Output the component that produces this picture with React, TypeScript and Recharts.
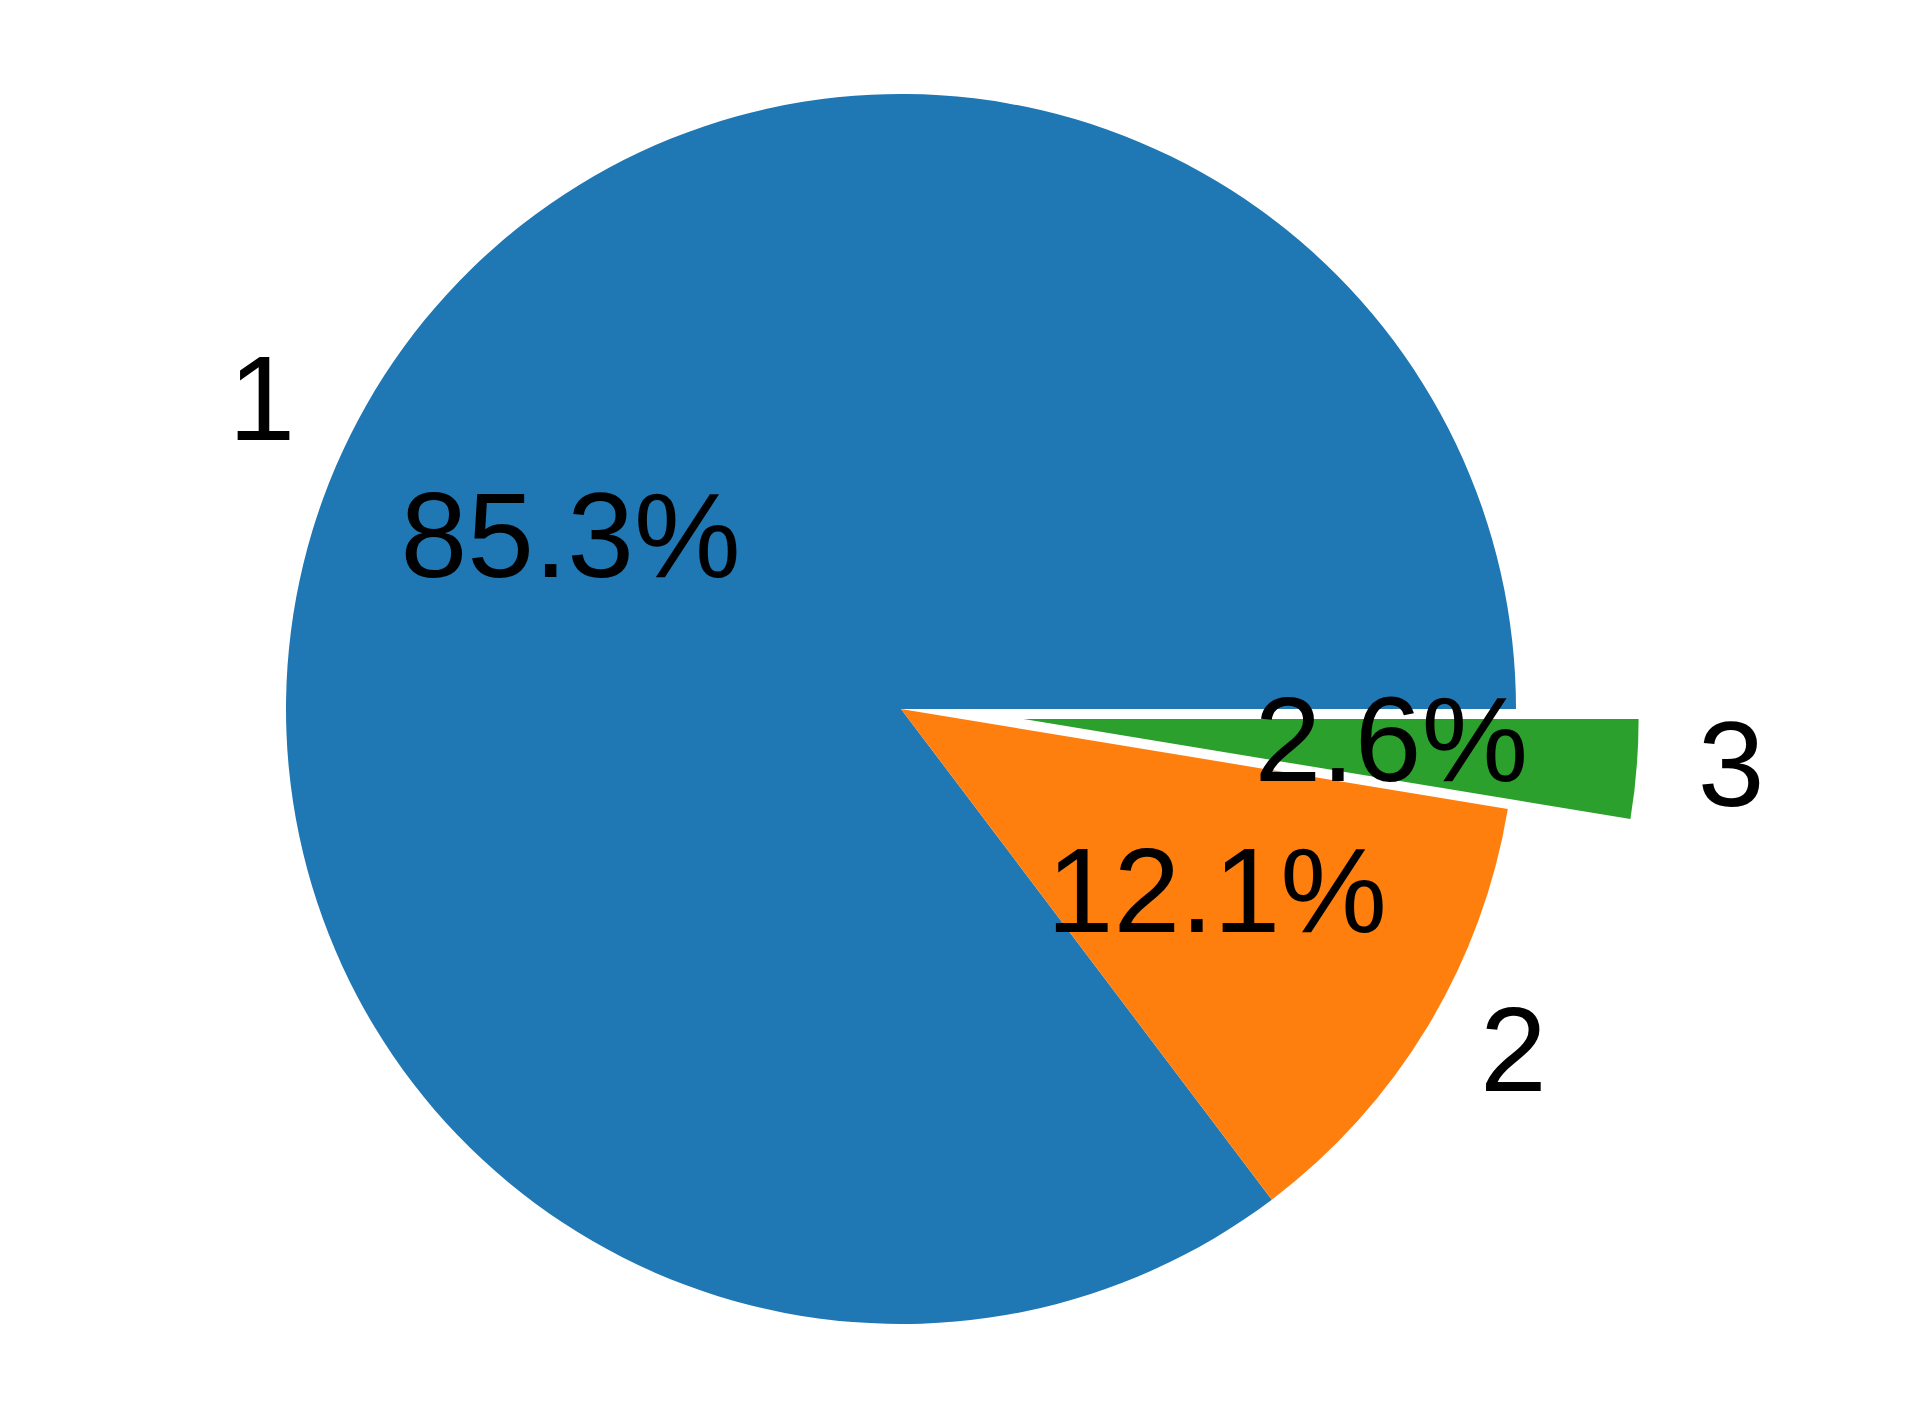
import { PieChart, Pie, Cell } from "recharts";

// slice values (percent of total) and their labels
const NAMES = ["1", "2", "3"];
const VALUES = [85.3, 12.1, 2.6];
const COLORS = ["#1f77b4", "#ff7f0e", "#2ca02c"];
const EXPLODE = [0, 0, 0.2];

const WIDTH = 1919;
const HEIGHT = 1418;
const CX = 901;
const CY = 709;
const R = 615;
const FONT = "'Liberation Sans', Arial, Helvetica, sans-serif";

const data = NAMES.map((name, i) => ({ name, value: VALUES[i] }));
const total = VALUES.reduce((a, b) => a + b, 0);

// mid angle (degrees, counter-clockwise from 3 o'clock) of each slice
const midAngles = VALUES.map((v, i) => {
  const before = VALUES.slice(0, i).reduce((a, b) => a + b, 0);
  return ((before + v / 2) / total) * 360;
});

function makeLabel(only: number) {
  return (props: any) => {
    const { cx, cy, midAngle, outerRadius, percent, index, name } = props;
    if (index !== only) return null;
    const rad = (midAngle * Math.PI) / 180;
    const cos = Math.cos(rad);
    const sin = Math.sin(rad);
    const nx = cx + outerRadius * 1.1 * cos;
    const ny = cy - outerRadius * 1.1 * sin;
    const px = cx + outerRadius * 0.6 * cos;
    const py = cy - outerRadius * 0.6 * sin;
    return (
      <g>
        <text x={nx} y={ny} dy={-10} textAnchor={cos >= 0 ? "start" : "end"} dominantBaseline="central"
          fontFamily={FONT} fontSize={120} fill="#000">
          {name}
        </text>
        <text x={px} y={py} dy={-10} textAnchor="middle" dominantBaseline="central"
          fontFamily={FONT} fontSize={120} fill="#000">
          {(percent * 100).toFixed(1)}%
        </text>
      </g>
    );
  };
}

export default function App() {
  return (
    <div style={{ position: "absolute", left: 0, top: 0, background: "#fff" }}>
      <PieChart width={WIDTH} height={HEIGHT} margin={{ top: 0, right: 0, bottom: 0, left: 0 }}>
        {data.map((_, idx) => {
          const off = EXPLODE[idx] * R;
          const rad = (midAngles[idx] * Math.PI) / 180;
          return (
            <Pie
              key={idx}
              data={data}
              dataKey="value"
              nameKey="name"
              cx={CX + off * Math.cos(rad)}
              cy={CY - off * Math.sin(rad)}
              outerRadius={R}
              startAngle={0}
              endAngle={360}
              stroke="none"
              labelLine={false}
              label={makeLabel(idx)}
              isAnimationActive={false}
            >
              {data.map((_, i) => (
                <Cell key={i} fill={i === idx ? COLORS[i] : "none"} />
              ))}
            </Pie>
          );
        })}
      </PieChart>
    </div>
  );
}
